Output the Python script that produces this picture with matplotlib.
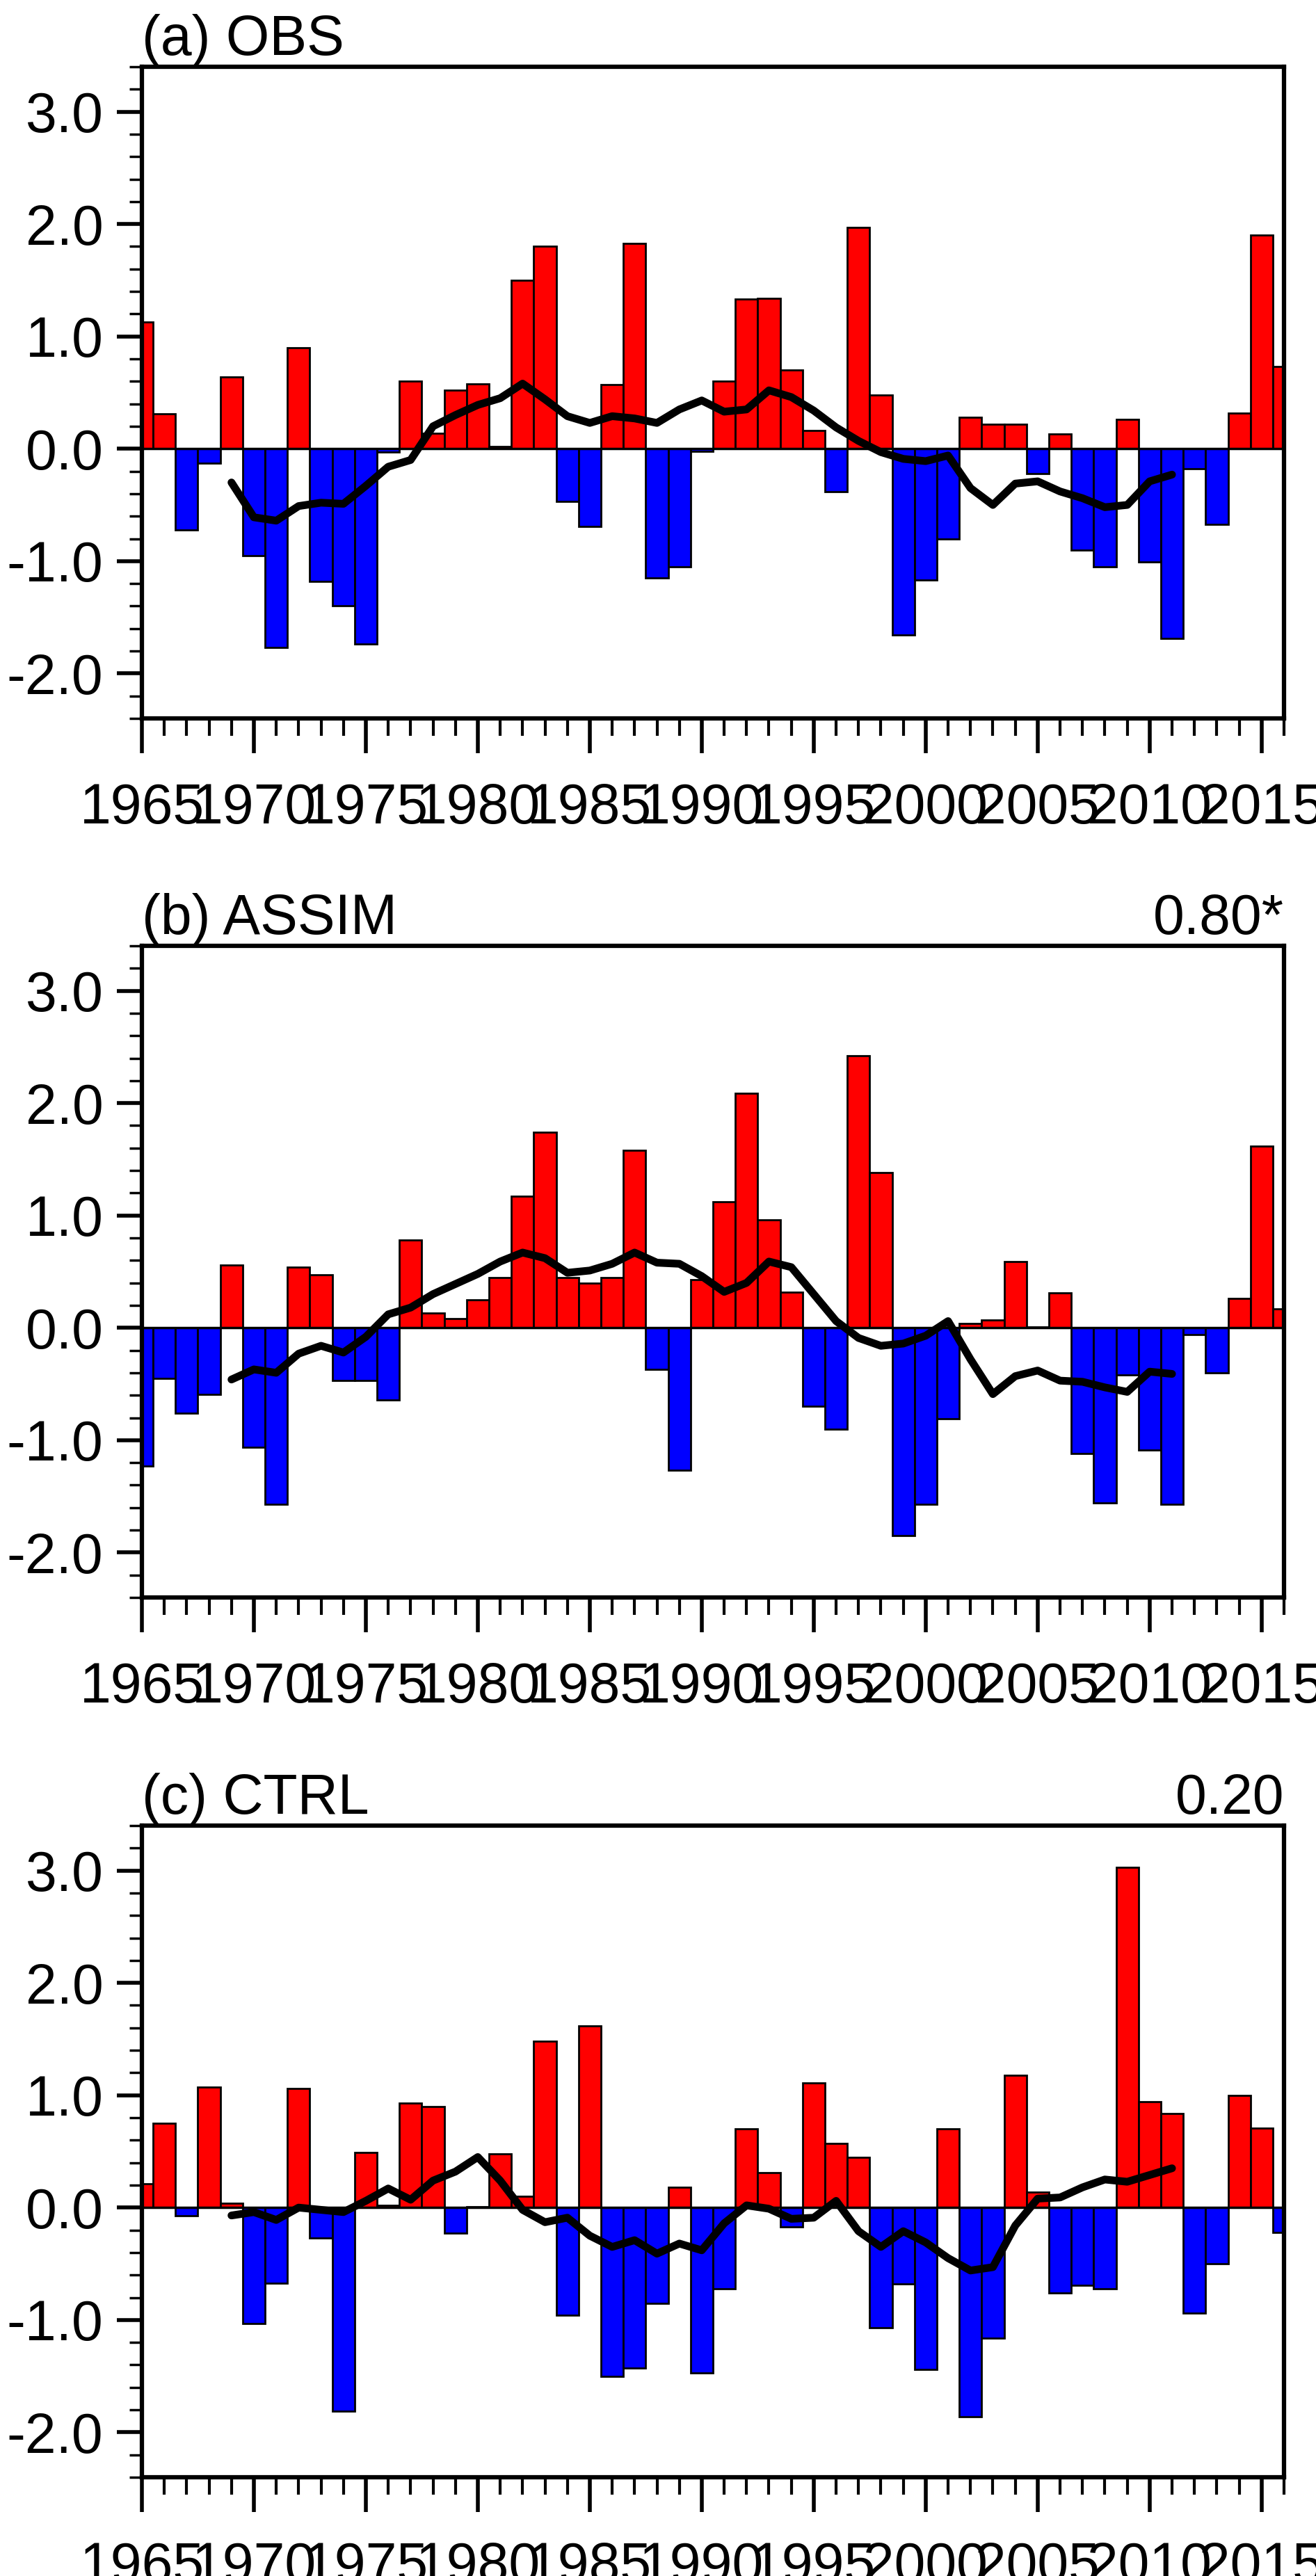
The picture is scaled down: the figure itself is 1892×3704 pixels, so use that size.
import numpy as np
import matplotlib
matplotlib.use("Agg")
import matplotlib.pyplot as plt
from matplotlib.ticker import MultipleLocator

plt.rcParams['font.family'] = ['Liberation Sans Narrow', 'Liberation Sans', 'DejaVu Sans']

years = np.arange(1965, 2017)
mean_years = np.arange(1969, 2012)

obs = [1.13, 0.31, -0.72, -0.13, 0.64, -0.95, -1.77, 0.90, -1.18, -1.40,
       -1.74, -0.03, 0.60, 0.14, 0.52, 0.58, 0.02, 1.50, 1.80, -0.47,
       -0.69, 0.57, 1.83, -1.15, -1.05, -0.02, 0.60, 1.33, 1.34, 0.70,
       0.16, -0.38, 1.97, 0.48, -1.66, -1.17, -0.80, 0.28, 0.22, 0.22,
       -0.22, 0.13, -0.90, -1.05, 0.26, -1.01, -1.69, -0.18, -0.67, 0.32,
       1.90, 0.73]
obs_mean = [-0.30, -0.61, -0.64, -0.51, -0.48, -0.49, -0.33, -0.16, -0.10, 0.20,
            0.30, 0.39, 0.45, 0.58, 0.44, 0.29, 0.23, 0.29, 0.27, 0.23,
            0.35, 0.43, 0.33, 0.35, 0.52, 0.46, 0.34, 0.19, 0.07, -0.03,
            -0.09, -0.11, -0.06, -0.35, -0.50, -0.31, -0.29, -0.38, -0.44, -0.52,
            -0.50, -0.29, -0.23]

assim = [-1.23, -0.45, -0.76, -0.59, 0.56, -1.06, -1.57, 0.54, 0.47, -0.47,
         -0.47, -0.64, 0.78, 0.13, 0.08, 0.25, 0.45, 1.17, 1.74, 0.45,
         0.40, 0.45, 1.58, -0.37, -1.27, 0.43, 1.12, 2.09, 0.96, 0.32,
         -0.70, -0.90, 2.42, 1.38, -1.85, -1.57, -0.81, 0.04, 0.07, 0.59,
         0.01, 0.31, -1.12, -1.56, -0.42, -1.09, -1.57, -0.06, -0.40, 0.26,
         1.62, 0.17]
assim_mean = [-0.46, -0.37, -0.40, -0.23, -0.16, -0.22, -0.08, 0.12, 0.18, 0.30,
              0.39, 0.48, 0.59, 0.67, 0.62, 0.49, 0.51, 0.57, 0.67, 0.58,
              0.57, 0.46, 0.32, 0.40, 0.59, 0.54, 0.30, 0.06, -0.09, -0.16,
              -0.14, -0.07, 0.06, -0.28, -0.59, -0.43, -0.38, -0.47, -0.48, -0.53,
              -0.57, -0.39, -0.41]

ctrl = [0.21, 0.75, -0.07, 1.07, 0.04, -1.03, -0.67, 1.06, -0.27, -1.81,
        0.49, 0.02, 0.93, 0.90, -0.23, 0.01, 0.48, 0.10, 1.48, -0.96,
        1.62, -1.50, -1.43, -0.85, 0.18, -1.47, -0.72, 0.70, 0.31, -0.17,
        1.11, 0.57, 0.45, -1.07, -0.68, -1.44, 0.70, -1.86, -1.16, 1.18,
        0.14, -0.76, -0.69, -0.72, 3.03, 0.94, 0.84, -0.94, -0.50, 1.00,
        0.71, -0.22]
ctrl_mean = [-0.07, -0.04, -0.11, 0.00, -0.02, -0.04, 0.06, 0.17, 0.07, 0.24,
             0.32, 0.45, 0.24, -0.02, -0.13, -0.09, -0.25, -0.35, -0.29, -0.41,
             -0.32, -0.38, -0.14, 0.02, -0.01, -0.10, -0.09, 0.06, -0.21, -0.35,
             -0.21, -0.31, -0.45, -0.56, -0.53, -0.16, 0.08, 0.09, 0.18, 0.25,
             0.23, 0.29, 0.35]

panels = [("(a) OBS", "", obs, obs_mean),
          ("(b) ASSIM", "0.80*", assim, assim_mean),
          ("(c) CTRL", "0.20", ctrl, ctrl_mean)]

W, H = 1892, 3704
fig = plt.figure(figsize=(W / 100, H / 100), dpi=100, facecolor='white')
tops = [96, 1360, 2625]
height = 937
left, right = 204, 1846
FS = 58

for (title, corr, vals, mean), top in zip(panels, tops):
    ax = fig.add_axes([left / W, 1 - (top + height) / H, (right - left) / W, height / H])
    vals = np.array(vals)
    colors = np.where(vals >= 0, '#ff0000', '#0000ff')
    ax.bar(years, vals, width=1.0, color=colors, edgecolor='black', linewidth=2, zorder=2)
    ax.axhline(0, color='black', linewidth=2.5, zorder=3)
    ax.plot(mean_years, mean, color='black', linewidth=8, zorder=4, solid_capstyle='round')
    ax.set_xlim(1965, 2016)
    ax.set_ylim(-2.4, 3.4)
    ax.xaxis.set_major_locator(MultipleLocator(5))
    ax.xaxis.set_minor_locator(MultipleLocator(1))
    ax.yaxis.set_minor_locator(MultipleLocator(0.2))
    ax.set_yticks([-2, -1, 0, 1, 2, 3])
    ax.set_yticklabels(['-2.0', '-1.0', '0.0', '1.0', '2.0', '3.0'])
    ax.tick_params(axis='both', which='major', direction='out', width=4, labelsize=FS)
    ax.tick_params(axis='x', which='major', length=36, pad=30)
    ax.tick_params(axis='x', which='minor', direction='out', length=18, width=3)
    ax.tick_params(axis='y', which='major', length=26, pad=14)
    ax.tick_params(axis='y', which='minor', direction='out', length=13, width=2.5)
    for s in ax.spines.values():
        s.set_linewidth(4.5)
    ax.set_title(title, loc='left', fontsize=FS, pad=4)
    if corr:
        ax.set_title(corr, loc='right', fontsize=FS, pad=4)

fig.savefig('out.png', dpi=100, facecolor='white')
